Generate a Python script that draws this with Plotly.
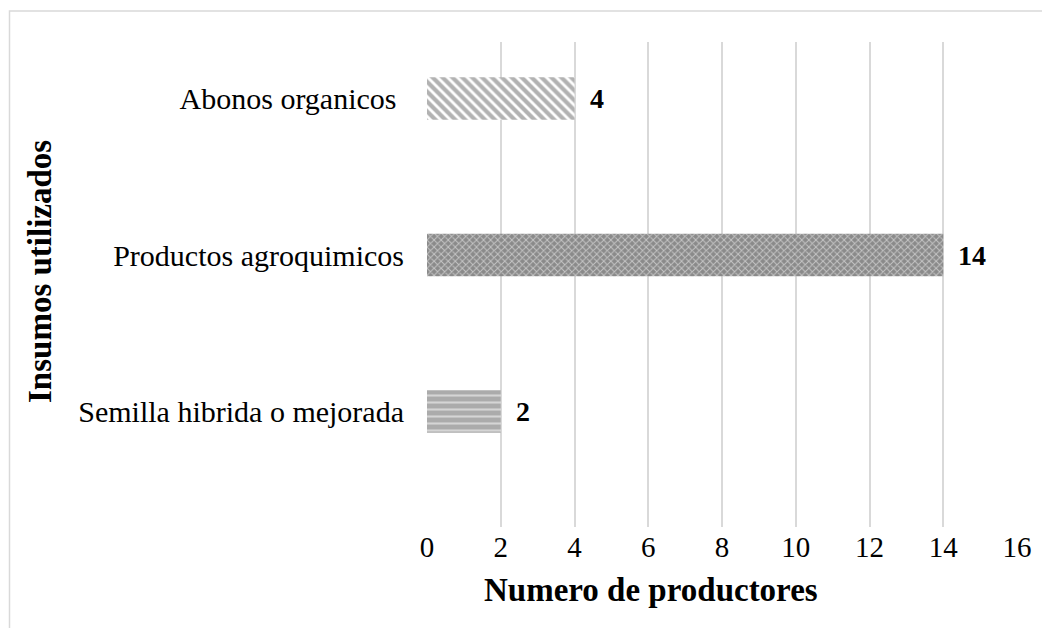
import plotly.graph_objects as go

categories = ["Semilla hibrida o mejorada", "Productos agroquimicos", "Abonos organicos "]
values = [2, 14, 4]
x_ticks = [0, 2, 4, 6, 8, 10, 12, 14, 16]

patterns = [
    dict(shape="-", fgcolor="white", bgcolor="#ababab", size=7, solidity=0.3),
    dict(shape="x", fgcolor="white", bgcolor="#8a8a8a", size=5, solidity=0.35),
    dict(shape="\\", fgcolor="#666666", bgcolor="white", size=7, solidity=0.6),
]

FONT = "Liberation Serif"
# the page body adds an 8px offset; figure geometry compensates for it
W, H = 1042, 620
PL, PR, PT, PB = 419, 1009, 34, 519   # plot area in figure pixels

def px(x):
    return (x - 8 - PL) / (PR - PL)

def py(y):
    return (PB - (y - 8)) / (PB - PT)

fig = go.Figure()
for c, v, p in zip(categories, values, patterns):
    fig.add_trace(go.Bar(
        y=[c], x=[v], orientation="h", width=0.27,
        marker=dict(color="#7f7f7f", pattern=p, line=dict(width=0)),
        showlegend=False,
    ))
    fig.add_annotation(x=v, y=c, text=f"<b>{v}</b>", showarrow=False,
                       xanchor="left", xshift=13,
                       font=dict(family=FONT, size=28, color="black"))

fig.update_layout(
    width=W, height=H,
    margin=dict(l=PL, r=W - PR, t=PT, b=H - PB),
    paper_bgcolor="white", plot_bgcolor="white",
    barmode="overlay",
    font=dict(family=FONT, size=29, color="black"),
    xaxis=dict(range=[0, 16], tickvals=x_ticks, showgrid=True, automargin=False,
               gridcolor="#d9d9d9", gridwidth=1.5, zeroline=False,
               showline=False, ticks="", ticklabelstandoff=0,
               tickfont=dict(family=FONT, size=29)),
    yaxis=dict(type="category", categoryorder="array", categoryarray=categories,
               range=[-0.738, 2.361], showgrid=False, zeroline=False, automargin=False,
               showline=False, ticks="", ticklabelstandoff=22,
               tickfont=dict(family=FONT, size=30)),
)

fig.add_annotation(xref="paper", yref="paper", x=px(651), y=py(590),
                   text="<b>Numero de productores</b>", showarrow=False,
                   xanchor="center", yanchor="middle",
                   font=dict(family=FONT, size=33))
fig.add_annotation(xref="paper", yref="paper", x=px(40), y=py(272),
                   text="<b>Insumos utilizados</b>", showarrow=False, textangle=-90,
                   xanchor="center", yanchor="middle",
                   font=dict(family=FONT, size=33))

fig.add_shape(type="rect", xref="paper", yref="paper",
              x0=px(9.5), x1=px(1047), y0=py(660), y1=py(11),
              line=dict(color="#d9d9d9", width=1.5), fillcolor="rgba(0,0,0,0)")

fig.write_html("out.html")
